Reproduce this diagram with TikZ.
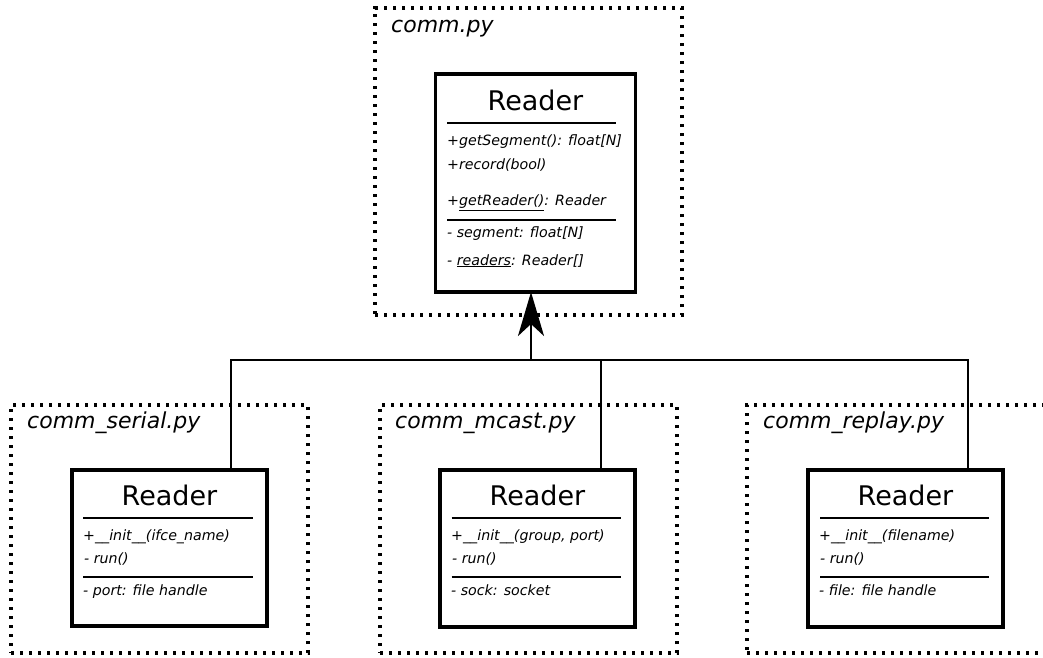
\documentclass[tikz,border=0pt]{standalone}
\usepackage{fontspec}
\setmainfont{DejaVu Sans}
\usetikzlibrary{arrows.meta}
\tikzset{
  dotbox/.style={draw, line width=3.2pt, dash pattern=on 3.2pt off 5.8pt, inner sep=0pt, outer sep=0pt, anchor=north west},
  classbox/.style={draw, line width=3.4pt, fill=white, inner sep=0pt, outer sep=0pt, anchor=north west},
  titletext/.style={anchor=base, inner sep=0pt, font=\fontsize{27}{32}\selectfont},
  pkgtext/.style={anchor=base west, inner sep=0pt, font=\fontsize{22}{26}\selectfont\itshape},
  member/.style={anchor=base west, inner sep=0pt, font=\fontsize{14.2}{17}\selectfont\itshape},
  sepline/.style={line width=2pt},
  conn/.style={line width=2.8pt},
  inherit/.style={conn, -{Stealth[length=44pt, width=26pt, inset=12pt]}}
}
\begin{document}
\begin{tikzpicture}[x=1pt, y=-1pt]
\clip (0,0) rectangle (1043,657);
\fill[white] (0,0) rectangle (1043,657);

% package frames
\node[dotbox, minimum width=307pt, minimum height=307pt] (f0) at (375,8) {};
\node[dotbox, minimum width=297pt, minimum height=248pt] (f1) at (11,405) {};
\node[dotbox, minimum width=297pt, minimum height=248pt] (f2) at (380,405) {};
\node[dotbox, minimum width=340pt, minimum height=248pt] (f3) at (747,405) {};

\node[pkgtext] (l0) at (391,32) {comm.py};
\node[pkgtext] (l1) at (27,428) {comm\_serial.py};
\node[pkgtext] (l2) at (395,428) {comm\_mcast.py};
\node[pkgtext] (l3) at (763,428) {comm\_replay.py};

% connectors
\coordinate (bus) at (531,360);
\coordinate (j1) at (231,470);
\coordinate (j2) at (601,470);
\coordinate (j3) at (968,470);
\draw[conn] (j1) |- (bus);
\draw[conn] (j3) |- (bus);
\draw[conn] (j2) |- (bus);

% parent class
\node[classbox, minimum width=200pt, minimum height=218pt] (p) at (435.5,74) {};
\draw[inherit] (bus) -- (bus |- p.south);
\node[titletext] (pt) at (535.5,110) {Reader};
\draw[sepline] (447,122.7) -- (616,122.7);
\node[member] (p1) at (447,145.7) {+getSegment(): float[N]};
\node[member] (p2) at (447,169) {+record(bool)};
\node[member] (p3) at (447,205.7) {+\underline{getReader()}: Reader};
\draw[sepline] (447,220) -- (616,220);
\node[member] (p4) at (447,237) {- segment: float[N]};
\node[member] (p5) at (447,265) {- \underline{readers}: Reader[]};

% child 1
\node[classbox, minimum width=195pt, minimum height=156pt] (s1) at (72,470) {};
\node[titletext] (s1t) at (169.5,505) {Reader};
\draw[sepline] (83,517.7) -- (253,517.7);
\node[member] (s1a) at (83,540.7) {+\_\_init\_\_(ifce\_name)};
\node[member] (s1b) at (84,563) {- run()};
\draw[sepline] (83,577.3) -- (253,577.3);
\node[member] (s1c) at (83,595) {- port: file handle};

% child 2
\node[classbox, minimum width=195pt, minimum height=157pt] (s2) at (440,470) {};
\node[titletext] (s2t) at (537.5,505) {Reader};
\draw[sepline] (451.7,517.7) -- (620.7,517.7);
\node[member] (s2a) at (451,540.7) {+\_\_init\_\_(group, port)};
\node[member] (s2b) at (452,563) {- run()};
\draw[sepline] (451.7,577.3) -- (620.7,577.3);
\node[member] (s2c) at (451,595) {- sock: socket};

% child 3
\node[classbox, minimum width=195pt, minimum height=157pt] (s3) at (808,470) {};
\node[titletext] (s3t) at (905.5,505) {Reader};
\draw[sepline] (820,517.7) -- (989,517.7);
\node[member] (s3a) at (819,540.7) {+\_\_init\_\_(filename)};
\node[member] (s3b) at (820,563) {- run()};
\draw[sepline] (820,577.3) -- (989,577.3);
\node[member] (s3c) at (819,595) {- file: file handle};
\end{tikzpicture}
\end{document}
